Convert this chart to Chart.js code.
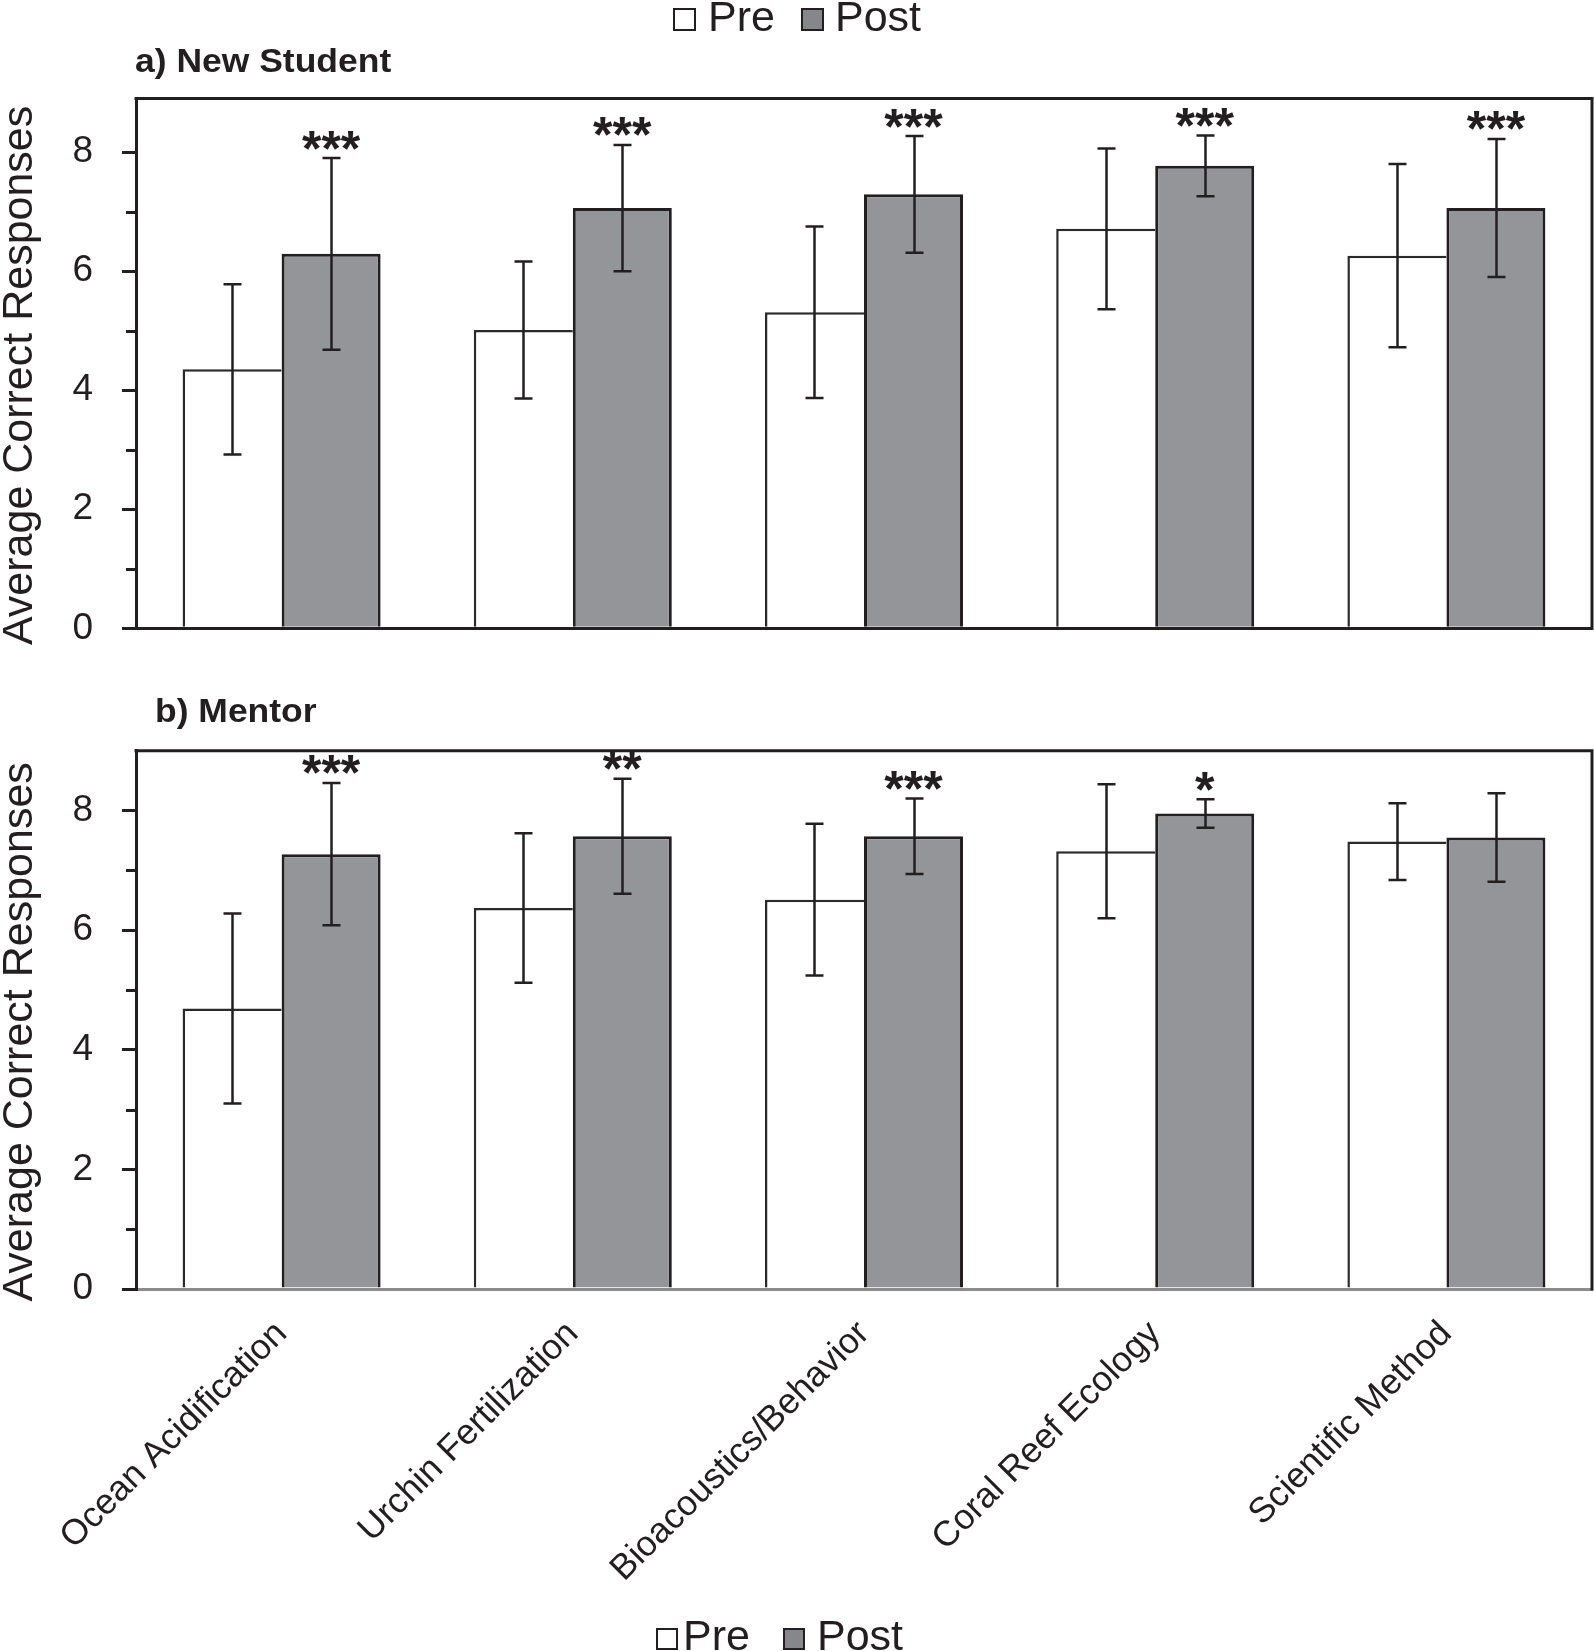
<!DOCTYPE html>
<html>
<head>
<meta charset="utf-8">
<script src="https://cdn.jsdelivr.net/npm/chart.js@4/dist/chart.umd.min.js"></script>
<style>
  html, body { margin: 0; padding: 0; background: #ffffff; }
  #wrap { position: relative; width: 1594px; height: 1651px; overflow: hidden; background: #fff; }
  canvas { position: absolute; left: 0; }
</style>
</head>
<body>
<div id="wrap">
  <canvas id="c1" width="1594" height="660" style="top:0;width:1594px;height:660px"></canvas>
  <canvas id="c2" width="1594" height="991" style="top:660px;width:1594px;height:991px"></canvas>
</div>
<script>
// ---------------- data ----------------
const categories = ['Ocean Acidification', 'Urchin Fertilization', 'Bioacoustics/Behavior', 'Coral Reef Ecology', 'Scientific Method'];
const seriesNames = ['Pre', 'Post'];

// a) New Student
const preA    = [4.35, 5.01, 5.31, 6.71, 6.26];
const postA   = [6.29, 7.06, 7.29, 7.77, 7.06];
const preSdA  = [1.43, 1.15, 1.44, 1.35, 1.54];
const postSdA = [1.61, 1.06, 0.98, 0.51, 1.16];
const sigA    = ['***', '***', '***', '***', '***'];

// b) Mentor
const preB    = [4.69, 6.37, 6.51, 7.32, 7.48];
const postB   = [7.27, 7.57, 7.57, 7.95, 7.55];
const preSdB  = [1.59, 1.25, 1.27, 1.12, 0.64];
const postSdB = [1.19, 0.96, 0.63, 0.24, 0.74];
const sigB    = ['***', '**', '***', '*', ''];

const yLabelTicks = [0, 2, 4, 6, 8];
const yMinorTicks = [1, 3, 5, 7];
const yAxisTitle = 'Average Correct Responses';

// ---------------- style ----------------
const INK = '#231f20';
const POST_FILL = '#939598';
const FAMILY = "'Liberation Sans', Arial, Helvetica, sans-serif";
Chart.defaults.font.family = FAMILY;
Chart.defaults.color = INK;

function drawStretchedText(ctx, text, x, y, font, sx) {
  ctx.save();
  ctx.font = font;
  ctx.fillStyle = INK;
  ctx.textAlign = 'left';
  ctx.textBaseline = 'alphabetic';
  ctx.translate(x, y);
  ctx.scale(sx, 1);
  ctx.fillText(text, 0, 0);
  ctx.restore();
}

const decor = {
  id: 'decor',
  beforeDraw(chart) {
    const ctx = chart.ctx;
    ctx.save();
    ctx.fillStyle = '#ffffff';
    ctx.fillRect(0, 0, chart.width, chart.height);
    ctx.restore();
  },
  afterDatasetsDraw(chart, args, opts) {
    const ctx = chart.ctx;
    const y = chart.scales.y;
    ctx.save();
    ctx.strokeStyle = INK;
    ctx.lineWidth = 2.5;
    chart.data.datasets.forEach((ds, di) => {
      const meta = chart.getDatasetMeta(di);
      meta.data.forEach((bar, j) => {
        const v = ds.data[j], sd = ds.sd[j];
        const yt = y.getPixelForValue(v + sd);
        const yb = y.getPixelForValue(v - sd);
        const x = Math.round(bar.x) + 0.5;
        const cap = 9;
        ctx.beginPath();
        ctx.moveTo(x, yt); ctx.lineTo(x, yb);
        ctx.moveTo(x - cap, yt); ctx.lineTo(x + cap, yt);
        ctx.moveTo(x - cap, yb); ctx.lineTo(x + cap, yb);
        ctx.stroke();
        if (ds.sig && ds.sig[j]) {
          ctx.save();
          ctx.font = 'bold 50px ' + FAMILY;
          ctx.fillStyle = INK;
          ctx.textAlign = 'center';
          ctx.textBaseline = 'alphabetic';
          const m = ctx.measureText(ds.sig[j]);
          const cy = yt - opts.sigGap;
          const base = cy + (m.actualBoundingBoxAscent - m.actualBoundingBoxDescent) / 2;
          ctx.fillText(ds.sig[j], bar.x, base);
          ctx.restore();
        }
      });
    });
    ctx.restore();
  },
  afterDraw(chart, args, opts) {
    const ctx = chart.ctx;
    const a = chart.chartArea;
    const y = chart.scales.y;
    ctx.save();
    // top & right frame
    ctx.strokeStyle = INK;
    ctx.lineWidth = 3;
    ctx.lineCap = 'square';
    ctx.beginPath();
    ctx.moveTo(a.left, a.top); ctx.lineTo(a.right, a.top); ctx.lineTo(a.right, a.bottom);
    ctx.stroke();
    // minor ticks
    ctx.lineCap = 'butt';
    ctx.beginPath();
    yMinorTicks.forEach(v => {
      const py = Math.round(y.getPixelForValue(v)) + 0.5;
      ctx.moveTo(a.left - 10, py); ctx.lineTo(a.left, py);
    });
    ctx.stroke();
    ctx.restore();

    // panel title
    drawStretchedText(ctx, opts.title, opts.titleX, opts.titleY, 'bold 33px ' + FAMILY, 1.075);

    // y axis title
    ctx.save();
    ctx.font = '43px ' + FAMILY;
    ctx.fillStyle = INK;
    ctx.textAlign = 'center';
    ctx.textBaseline = 'middle';
    ctx.translate(20, (a.top + a.bottom) / 2 + 12);
    ctx.rotate(-Math.PI / 2);
    ctx.fillText(yAxisTitle, 0, 0);
    ctx.restore();

    // legend
    const L = opts.legend;
    ctx.save();
    ctx.lineWidth = 2;
    ctx.strokeStyle = INK;
    ctx.fillStyle = '#ffffff';
    ctx.fillRect(L.box1, L.boxTop, L.box, L.box);
    ctx.strokeRect(L.box1 + 1, L.boxTop + 1, L.box - 2, L.box - 2);
    ctx.fillStyle = '#86878a';
    ctx.fillRect(L.box2, L.boxTop, L.box, L.box);
    ctx.strokeRect(L.box2 + 1, L.boxTop + 1, L.box - 2, L.box - 2);
    ctx.font = '43px ' + FAMILY;
    ctx.fillStyle = INK;
    ctx.textBaseline = 'alphabetic';
    ctx.fillText(seriesNames[0], L.text1, L.base);
    ctx.fillText(seriesNames[1], L.text2, L.base);
    ctx.restore();
  }
};

function makePanel(canvasId, p) {
  return new Chart(document.getElementById(canvasId), {
    type: 'bar',
    data: {
      labels: categories,
      datasets: [
        {
          label: seriesNames[0], data: p.pre, sd: p.preSd, sig: null,
          backgroundColor: '#ffffff', borderColor: '#2a2a2a',
          borderWidth: { top: 2.5, left: 2.5, right: 0, bottom: 0 }, borderSkipped: false,
          categoryPercentage: 0.68, barPercentage: 1.0
        },
        {
          label: seriesNames[1], data: p.post, sd: p.postSd, sig: p.sig,
          backgroundColor: POST_FILL, borderColor: INK,
          borderWidth: { top: 3, left: 3, right: 3, bottom: 0 }, borderSkipped: false,
          categoryPercentage: 0.68, barPercentage: 1.0
        }
      ]
    },
    options: {
      responsive: false,
      devicePixelRatio: 1,
      animation: false,
      layout: { padding: { top: p.padTop, right: 2, left: 0, bottom: 0 } },
      plugins: {
        legend: { display: false },
        tooltip: { enabled: false },
        title: { display: false },
        decor: { title: p.title, titleX: p.titleX, titleY: p.titleY, legend: p.legend, sigGap: 18 }
      },
      scales: {
        x: {
          grid: { display: false },
          border: { display: true, color: p.axisColor, width: 3 },
          ticks: {
            display: p.showX, autoSkip: false, minRotation: 45, maxRotation: 45, padding: 16,
            font: { size: 35.5, family: FAMILY }, color: INK
          },
          afterFit: s => { s.height = p.xHeight; s.paddingLeft = 0; s.paddingRight = 0; }
        },
        y: {
          min: 0, max: p.yMax,
          afterBuildTicks: s => { s.ticks = s.ticks.filter(t => Number.isInteger(t.value)); },
          afterFit: s => { s.width = 136; s.paddingTop = 0; s.paddingBottom = 0; },
          grid: {
            display: true, drawOnChartArea: false, drawTicks: true, tickLength: 14, lineWidth: 3,
            color: c => (c.tick && yLabelTicks.includes(c.tick.value)) ? INK : 'rgba(0,0,0,0)'
          },
          border: { display: true, color: INK, width: 3 },
          ticks: {
            stepSize: 1, padding: 29, color: INK,
            font: { size: 37, family: FAMILY },
            callback: v => yLabelTicks.includes(v) ? String(v) : ''
          }
        }
      }
    },
    plugins: [decor]
  });
}

makePanel('c1', {
  pre: preA, post: postA, preSd: preSdA, postSd: postSdA, sig: sigA,
  yMax: 8.9, showX: false, padTop: 98.5, xHeight: 31.7, axisColor: INK,
  title: 'a) New Student', titleX: 135, titleY: 71.7,
  legend: { box1: 673, box2: 801, boxTop: 8, box: 23, text1: 708, text2: 835, base: 30.7 }
});

makePanel('c2', {
  pre: preB, post: postB, preSd: preSdB, postSd: postSdB, sig: sigB,
  yMax: 9, showX: true, padTop: 90.7, xHeight: 362, axisColor: '#8c8c8c',
  title: 'b) Mentor', titleX: 155, titleY: 61.7,
  legend: { box1: 656, box2: 783, boxTop: 968, box: 22, text1: 683, text2: 817, base: 990 }
});
</script>
</body>
</html>
